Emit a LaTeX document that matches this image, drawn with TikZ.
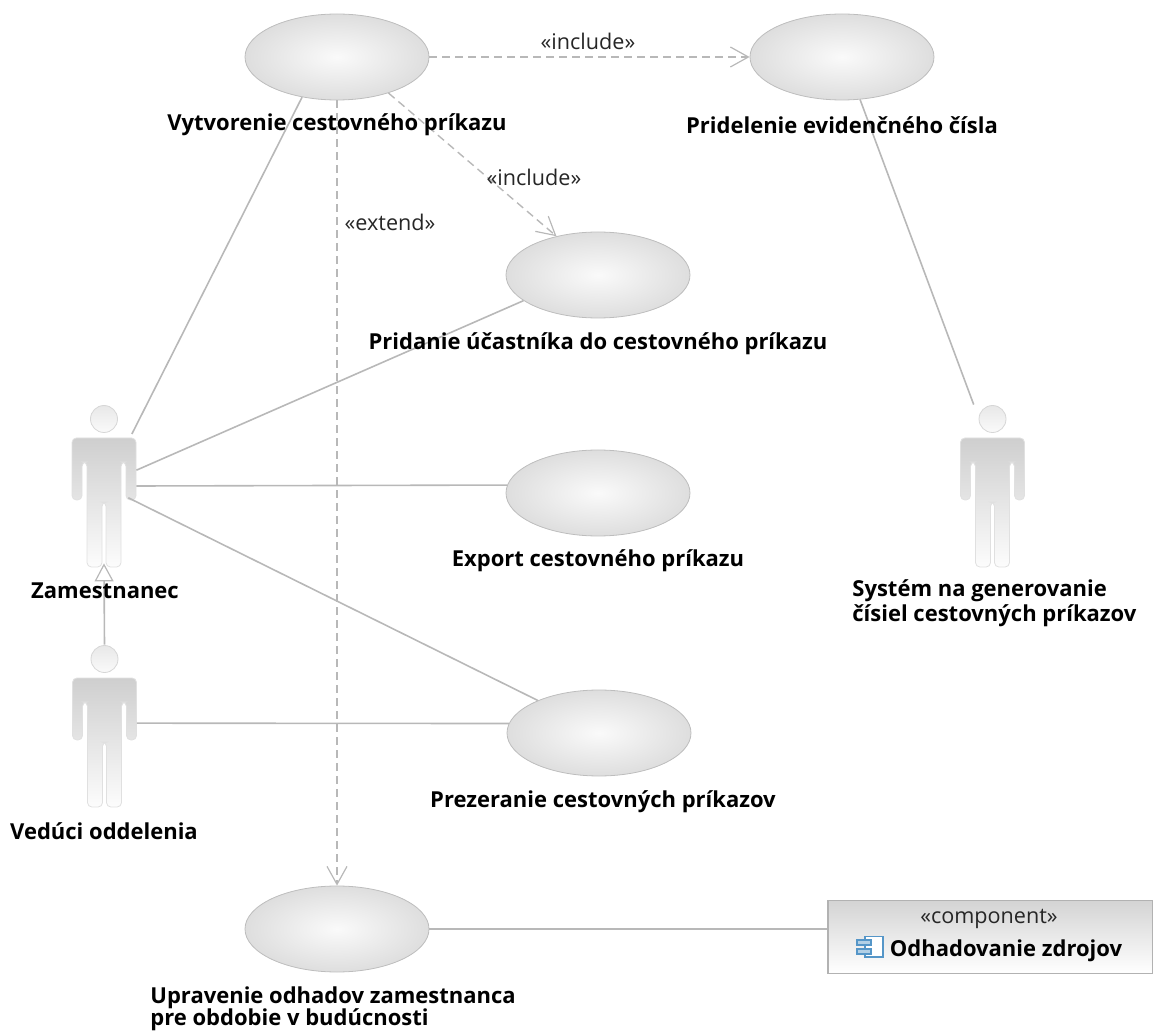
\documentclass[tikz,border=0pt]{standalone}
\usepackage{fontspec}
\setmainfont{Open Sans}
\usetikzlibrary{shapes.geometric,arrows.meta}
\definecolor{ciara}{gray}{0.72}
\definecolor{okraj}{gray}{0.74}
\definecolor{ikona}{RGB}{85,150,200}
\tikzset{
  pripad/.style={draw=okraj,ellipse,inner sep=0pt,minimum width=92pt,minimum height=43pt,
    inner color=black!2,outer color=black!13},
  nazov/.style={font=\fontsize{11}{12.5}\selectfont\bfseries,inner sep=0pt,text=black},
  stereo/.style={font=\fontsize{10.8}{11}\selectfont,inner sep=0pt,text=black!85},
  spoj/.style={draw=ciara,line width=0.8pt},
  zavislost/.style={draw=ciara,line width=0.7pt,dashed,dash pattern=on 4pt off 2.5pt,
    -{Straight Barb[length=9pt,width=10pt,line width=0.6pt]}}
}
\begin{document}
\begin{tikzpicture}[x=0.5pt,y=-0.5pt]
\useasboundingbox (0,0) rectangle (1153,1032);

%Akter
\newcommand\akter[2]{
\node[inner sep=0pt,minimum width=32pt,minimum height=81pt] (#1) at (#2) {};
\begin{scope}[shift={(#2)}]
\draw[draw=black!16,top color=black!9,bottom color=black!2] (0,-67) circle (13.5);
\draw[draw=black!12,top color=black!19,bottom color=black!1,rounded corners=2.2pt]
  (-32,-48) -- (32,-48) -- (32,14) -- (22,14) -- (22,-24) -- (17,-24) -- (17,81) -- (2,81)
  -- (2,16) -- (-2,16) -- (-2,81) -- (-17,81) -- (-17,-24) -- (-22,-24) -- (-22,14)
  -- (-32,14) -- cycle;
\end{scope}
}
\akter{zam}{104,486}
\akter{ved}{104.5,726}
\akter{sys}{992.5,486}

%Pripady
\node[pripad] (vyt) at (337,57) {};
\node[pripad] (pri) at (842,57) {};
\node[pripad] (pti) at (598,275) {};
\node[pripad] (exp) at (598,493) {};
\node[pripad] (pre) at (599,733) {};
\node[pripad] (upr) at (337,929) {};

%Komponent
\node[draw=black!30,line width=0.8pt,top color=black!17,bottom color=white,inner sep=0pt,
  minimum width=162.5pt,minimum height=36.5pt] (kom) at (990.5,937) {};
\draw[ikona,fill=white,line width=0.8pt] (865,936.5) rectangle (883,957);
\draw[ikona,fill=ikona!45,line width=0.7pt] (857,940) rectangle (871,945);
\draw[ikona,fill=ikona!45,line width=0.7pt] (857,949) rectangle (871,954);

%Spojenia
\draw[spoj,shorten <=-5pt] (zam.62) -- (vyt.229);
\draw[spoj] (zam.26.6) -- (pti.199);
\draw[spoj] (zam.east) -- (exp.175);
\draw[spoj,shorten <=-4.5pt] (zam.-26.6) -- (pre.152);
\draw[spoj] (ved.5) -- (pre.174);
\draw[spoj] (pri.-67) -- (sys.103.5);
\draw[spoj] (upr.east) -- (upr.east -| kom.west);
\draw[spoj,shorten >=-2pt,-{Triangle[open,fill=white,length=9pt,width=9.5pt,line width=0.6pt]}] (ved.north) -- (zam.south);
\draw[zavislost] (vyt.east) -- (pri.west);
\draw[zavislost] (vyt.-35) -- (pti.137);
\draw[zavislost] (vyt.south) -- (upr.north);

%Texty
\node[nazov] (tvyt) at (337,125) {Vytvorenie cestovného príkazu};
\node[nazov] (tpri) at (842,125) {Pridelenie evidenčného čísla};
\node[nazov] (tpti) at (598,344) {Pridanie účastníka do cestovného príkazu};
\node[nazov] (texp) at (598,561) {Export cestovného príkazu};
\node[nazov] (tpre) at (603,802) {Prezeranie cestovných príkazov};
\node[nazov,align=left,anchor=north west] (tupr) at (150,986) {Upravenie odhadov zamestnanca\\[-1.5pt]pre obdobie v budúcnosti};
\node[nazov] (tzam) at (105,591) {Zamestnanec};
\node[nazov] (tved) at (104,831) {Vedúci oddelenia};
\node[nazov,align=left,anchor=north west] (tsys) at (852,579) {Systém na generovanie\\čísiel cestovných príkazov};
\node[nazov] (tkom) at (1006,951) {Odhadovanie zdrojov};
\node[stereo] (skom) at (989,919) {«component»};
\node[stereo] (sin1) at (588,41) {«include»};
\node[stereo] (sin2) at (534,177) {«include»};
\node[stereo] (sext) at (390,222) {«extend»};

\end{tikzpicture}
\end{document}
